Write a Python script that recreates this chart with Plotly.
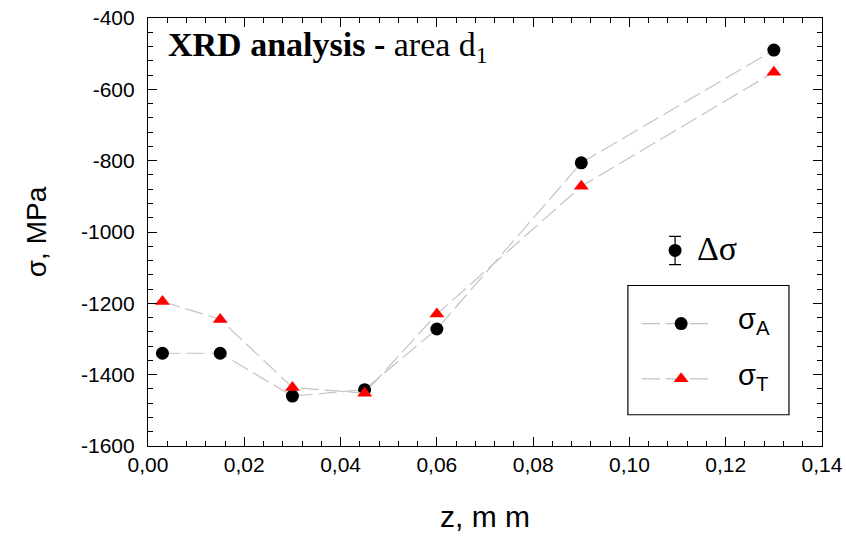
import plotly.graph_objects as go

# depth below surface, mm
z_mm = [0.003, 0.015, 0.030, 0.045, 0.060, 0.090, 0.130]
# residual stress components, MPa
sigma_A = [-1340, -1340, -1460, -1442, -1272, -806, -490]
sigma_T = [-1195, -1245, -1436, -1452, -1230, -872, -552]

x_ticks = [0.00, 0.02, 0.04, 0.06, 0.08, 0.10, 0.12, 0.14]
x_ticktext = ["0,00", "0,02", "0,04", "0,06", "0,08", "0,10", "0,12", "0,14"]
y_ticks = [-1600, -1400, -1200, -1000, -800, -600, -400]
y_ticktext = ["-1600", "-1400", "-1200", "-1000", "-800", "-600", "-400"]

TICK_FONT = dict(family="Liberation Sans, Arial", size=21, color="black")
LINE_COL = "#c4c4c4"
DASH = "18px,6px"

fig = go.Figure()

fig.add_trace(go.Scatter(
    x=z_mm, y=sigma_A, mode="lines+markers", name="σA",
    line=dict(color=LINE_COL, width=1.2, dash=DASH),
    marker=dict(symbol="circle", size=13, color="black"),
    showlegend=False,
))
fig.add_trace(go.Scatter(
    x=z_mm, y=sigma_T, mode="lines+markers", name="σT",
    line=dict(color=LINE_COL, width=1.2, dash=DASH),
    marker=dict(symbol="triangle-up", size=13, color="red"),
    showlegend=False,
))

# legend keys drawn on an overlay axis spanning the plot area (0..1)
key_x0, key_x1, key_xm = 0.733, 0.837, 0.791
row_y = [0.286, 0.157]
for ry in row_y:
    fig.add_trace(go.Scatter(
        x=[key_x0, key_x1], y=[ry, ry], xaxis="x2", yaxis="y2",
        mode="lines", line=dict(color=LINE_COL, width=1.2, dash=DASH),
        showlegend=False, hoverinfo="skip"))
fig.add_trace(go.Scatter(
    x=[key_xm], y=[row_y[0]], xaxis="x2", yaxis="y2", mode="markers",
    marker=dict(symbol="circle", size=13, color="black"),
    showlegend=False, hoverinfo="skip"))
fig.add_trace(go.Scatter(
    x=[key_xm], y=[row_y[1]], xaxis="x2", yaxis="y2", mode="markers",
    marker=dict(symbol="triangle-up", size=13, color="red"),
    showlegend=False, hoverinfo="skip"))
# error-bar key
fig.add_trace(go.Scatter(
    x=[0.782], y=[0.457], xaxis="x2", yaxis="y2", mode="markers",
    marker=dict(symbol="circle", size=13, color="black"),
    error_y=dict(type="constant", value=0.033, color="black", thickness=1.2, width=6),
    showlegend=False, hoverinfo="skip"))

fig.add_shape(type="rect", xref="x2", yref="y2", x0=0.712, x1=0.951, y0=0.073, y1=0.375,
              line=dict(color="black", width=1.2), fillcolor="rgba(0,0,0,0)")

LEG_FONT = dict(family="Liberation Sans, Arial", size=29, color="black")
fig.add_annotation(xref="x2", yref="y2", x=0.872, y=row_y[0] + 0.005, text="σ<sub>A</sub>",
                   showarrow=False, xanchor="left", yanchor="middle", font=LEG_FONT)
fig.add_annotation(xref="x2", yref="y2", x=0.872, y=row_y[1] + 0.005, text="σ<sub>T</sub>",
                   showarrow=False, xanchor="left", yanchor="middle", font=LEG_FONT)
fig.add_annotation(xref="x2", yref="y2", x=0.812, y=0.462, text="Δσ",
                   showarrow=False, xanchor="left", yanchor="middle",
                   font=dict(family="Liberation Serif, Times New Roman", size=34, color="black"))

fig.add_annotation(xref="x2", yref="y2", x=0.026, y=0.932,
                   text="<b>XRD analysis -</b> area d<sub>1</sub>",
                   showarrow=False, xanchor="left", yanchor="middle",
                   font=dict(family="Liberation Serif, Times New Roman", size=34, color="black"))

axis_common = dict(
    showline=True, linecolor="black", linewidth=1.2, mirror="ticks",
    ticks="inside", ticklen=9, tickwidth=1.2, tickcolor="black",
    showgrid=False, zeroline=False, tickfont=TICK_FONT, automargin=False,
)

fig.update_layout(
    width=846, height=539,
    margin=dict(l=148, r=24, t=18, b=93),
    paper_bgcolor="white", plot_bgcolor="white",
    xaxis=dict(range=[0, 0.14], tickvals=x_ticks, ticktext=x_ticktext,
               minor=dict(dtick=0.004, ticks="inside", ticklen=5, tickcolor="black", tickwidth=1),
               title=dict(text="z, m m", standoff=30,
                          font=dict(family="Liberation Sans, Arial", size=30, color="black")),
               **axis_common),
    yaxis=dict(range=[-1600, -400], tickvals=y_ticks, ticktext=y_ticktext,
               ticklabelstandoff=8,
               minor=dict(dtick=40, ticks="inside", ticklen=5, tickcolor="black", tickwidth=1),
               title=dict(text="σ, MPa", standoff=26,
                          font=dict(family="Liberation Sans, Arial", size=28, color="black")),
               **axis_common),
    xaxis2=dict(range=[0, 1], overlaying="x", visible=False, fixedrange=True),
    yaxis2=dict(range=[0, 1], overlaying="y", visible=False, fixedrange=True),
)

fig.write_html("out.html")
